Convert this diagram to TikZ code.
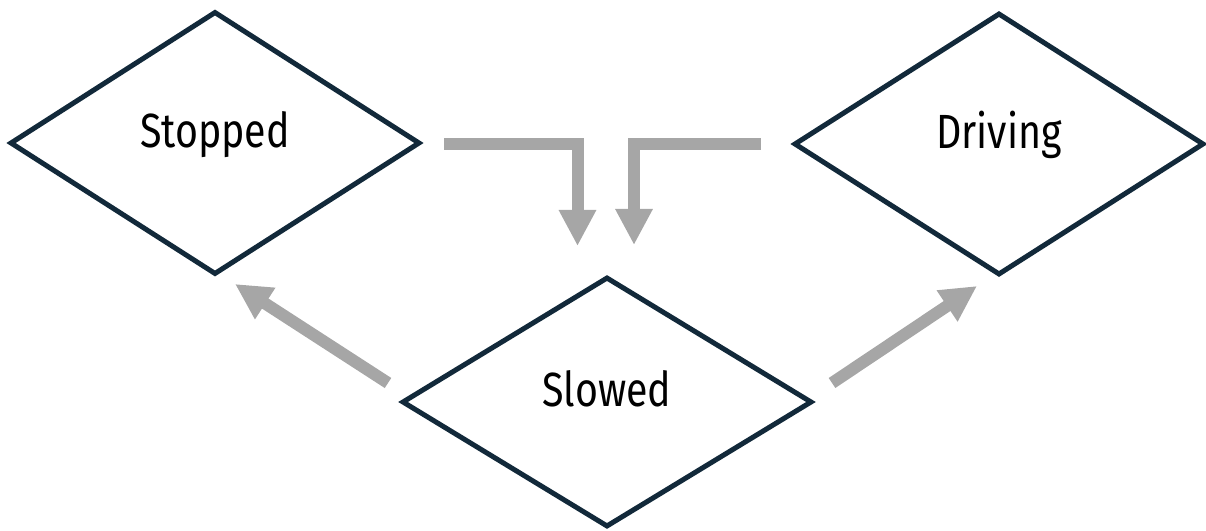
\documentclass[tikz,border=0pt]{standalone}
\usepackage{fontspec}
\newfontfamily\labfont[FakeStretch=0.82]{Fira Sans}
\usetikzlibrary{shapes.geometric,arrows.meta}
\definecolor{navy}{HTML}{12293A}
\definecolor{arrgray}{HTML}{A6A6A6}
\tikzset{
  state/.style={diamond, draw=navy, line width=5pt, inner sep=0pt,
    minimum width=410pt, minimum height=#1, text height=19pt, text depth=10pt,
    font=\labfont\fontsize{48}{50}\selectfont},
  flow/.style={draw=arrgray, line width=12pt, line join=miter,
    -{Triangle[length=36pt,width=35pt]}}
}
\begin{document}
\begin{tikzpicture}[x=1pt,y=1pt]
\useasboundingbox (0,0) rectangle (1206,530);
\node[state=263pt] (stopped) at (215,387) {Stopped};
\node[state=262pt] (driving) at (999,386) {Driving};
\node[state=250pt] (slowed) at (607,128) {Slowed};
\coordinate (a1s) at (444,386);
\coordinate (a1c) at (577.5,386);
\coordinate (a1e) at (577.5,284);
\coordinate (a2s) at (761,386);
\coordinate (a2c) at (634,386);
\coordinate (a2e) at (634,285);
\coordinate (a3s) at (388,147);
\coordinate (a3e) at (235,246);
\coordinate (a4s) at (832,147);
\coordinate (a4e) at (977,244);
\draw[flow] (a1s) -- (a1c) -- (a1e);
\draw[flow] (a2s) -- (a2c) -- (a2e);
\draw[flow] (a3s) -- (a3e);
\draw[flow] (a4s) -- (a4e);
\end{tikzpicture}
\end{document}
